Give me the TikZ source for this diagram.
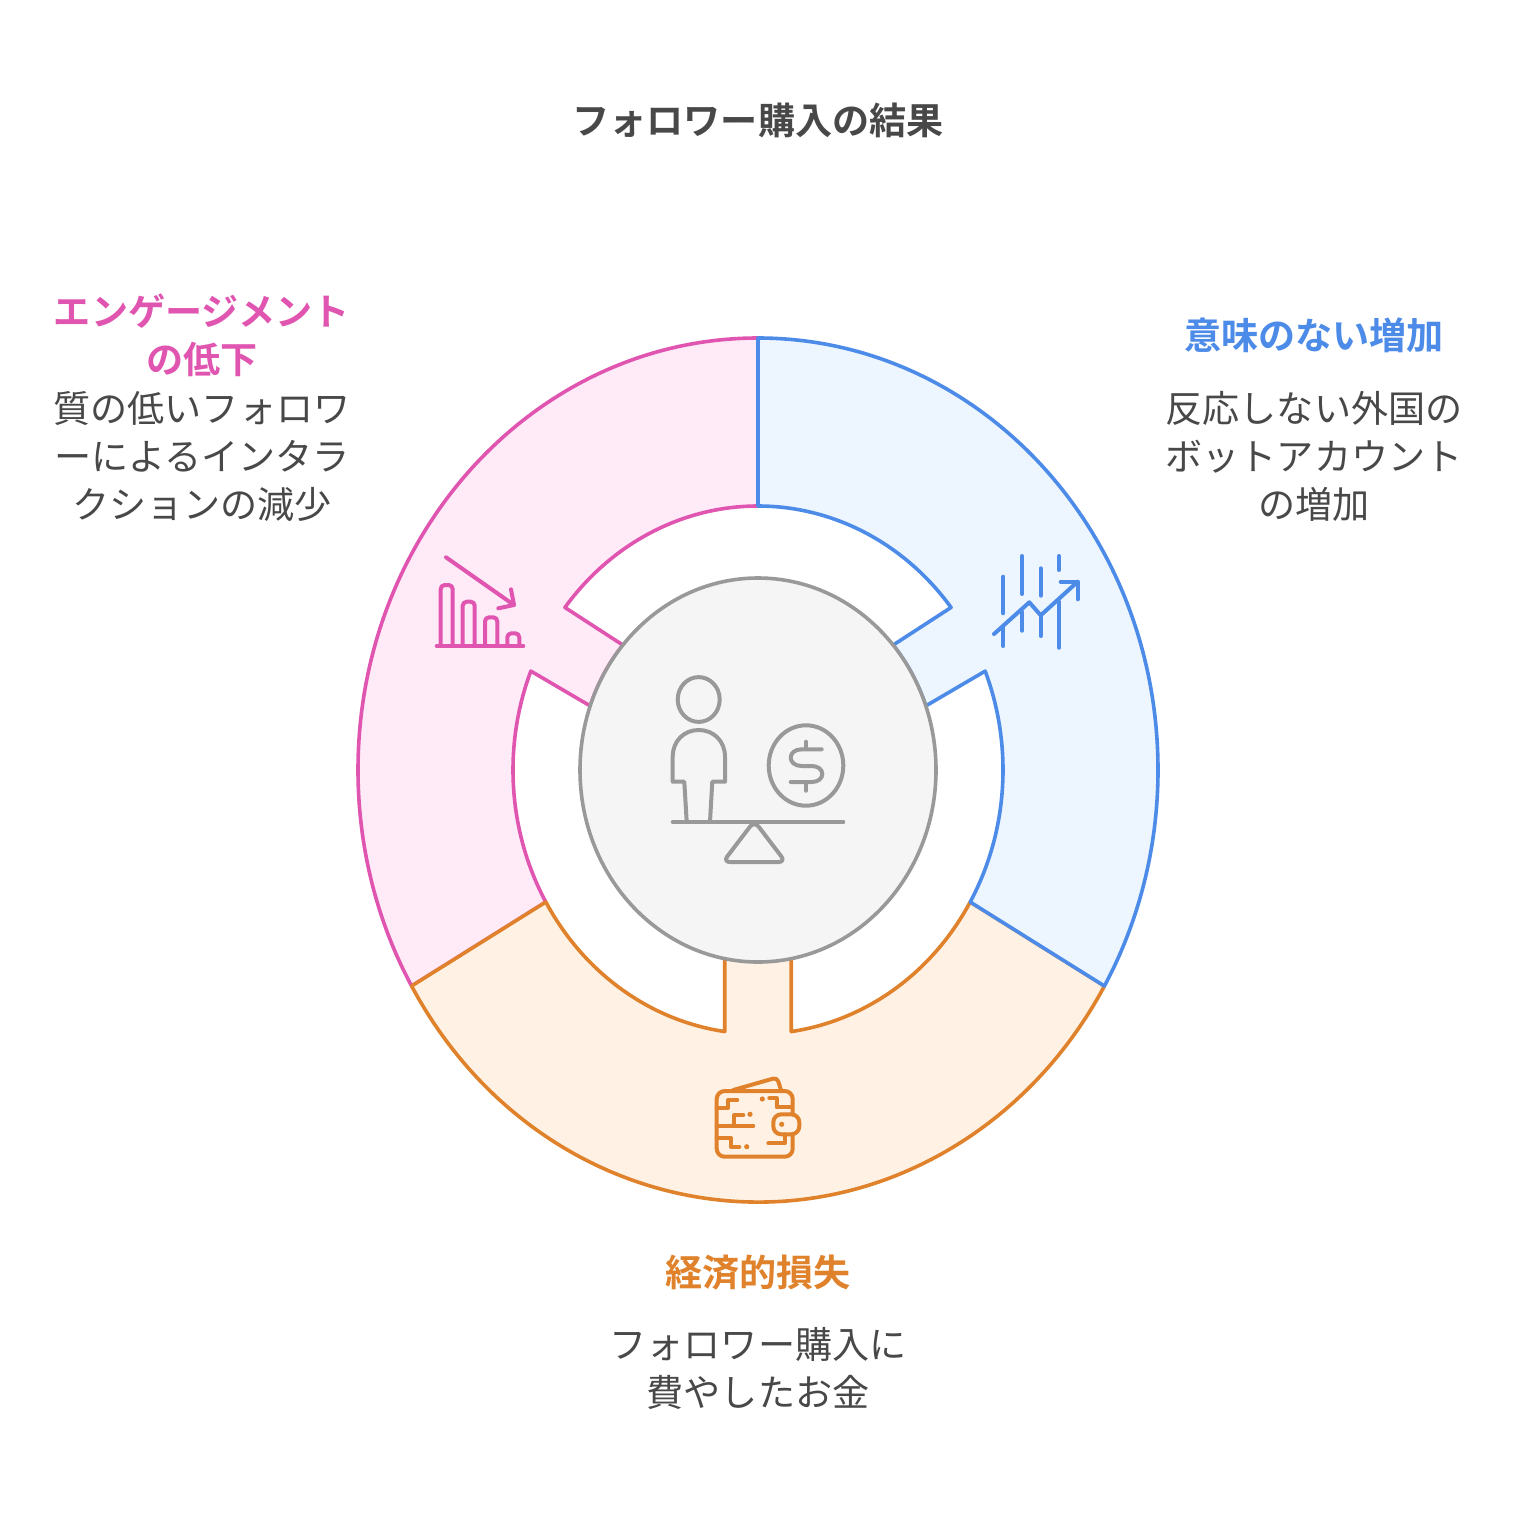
\documentclass[tikz,border=0pt]{standalone}
\usepackage{fontspec}
\newfontfamily\cjk[BoldFont={Noto Sans CJK JP Bold}]{Noto Sans CJK JP}
\definecolor{bluec}{HTML}{4D8BE8}
\definecolor{bluef}{HTML}{EDF5FF}
\definecolor{pinkc}{HTML}{E055B0}
\definecolor{pinkf}{HTML}{FFEBF8}
\definecolor{orangec}{HTML}{E0822B}
\definecolor{orangef}{HTML}{FFF2E5}
\definecolor{grayc}{HTML}{999999}
\definecolor{grayf}{HTML}{F5F5F5}
\definecolor{textc}{HTML}{484848}
\tikzset{
  x=.5pt,y=.5pt,
  seg/.style={line width=1.8pt,line join=round},
  ico/.style={line width=2pt,line cap=round,line join=round},
  body/.style={font=\cjk\fontsize{18.55pt}{24pt}\selectfont,text=textc,align=center,inner sep=0pt},
  head/.style={font=\cjk\bfseries\fontsize{18.55pt}{24pt}\selectfont,align=center,inner sep=0pt},
}
\def\RO{200pt and 216pt}
\def\RI{122.5pt and 132pt}
\def\RC{89pt and 96pt}
\begin{document}
\begin{tikzpicture}
\useasboundingbox (0,0) rectangle (1516,-1516);
\fill[white] (0,0) rectangle (1516,-1516);
\begin{scope}[shift={(758,-770)}]
  % pink
  \draw[seg,draw=pinkc,fill=pinkf]
    (90:\RO) arc[start angle=90,end angle=210,x radius=200pt,y radius=216pt]
    -- (210:\RI) arc[start angle=210,end angle=158,x radius=122.5pt,y radius=132pt]
    -- (160.5:\RC) arc[start angle=160.5,end angle=139.4,x radius=89pt,y radius=96pt]
    -- (142:\RI) arc[start angle=142,end angle=90,x radius=122.5pt,y radius=132pt]
    -- cycle;
  % orange
  \draw[seg,draw=orangec,fill=orangef]
    (210:\RO) arc[start angle=210,end angle=330,x radius=200pt,y radius=216pt]
    -- (330:\RI) arc[start angle=330,end angle=277.8,x radius=122.5pt,y radius=132pt]
    -- (277.8:122.5pt and 95pt) -- (262.2:122.5pt and 95pt) -- (262.2:\RI)
    arc[start angle=262.2,end angle=210,x radius=122.5pt,y radius=132pt]
    -- cycle;
  % blue
  \draw[seg,draw=bluec,fill=bluef]
    (90:\RO) arc[start angle=90,end angle=-30,x radius=200pt,y radius=216pt]
    -- (-30:\RI) arc[start angle=-30,end angle=22,x radius=122.5pt,y radius=132pt]
    -- (19.5:\RC) arc[start angle=19.5,end angle=40.6,x radius=89pt,y radius=96pt]
    -- (38:\RI) arc[start angle=38,end angle=90,x radius=122.5pt,y radius=132pt]
    -- cycle;
  % centre
  \draw[seg,draw=grayc,fill=grayf] (0,0) ellipse[x radius=89pt,y radius=96pt];
\end{scope}

% centre icon
\begin{scope}[ico,draw=grayc]
  \draw (698.7,-699.5) ellipse[x radius=10.5pt,y radius=11.2pt];
  \draw (686.7,-821.7) -- (684.3,-781.7) -- (672.7,-781.7) -- (672.7,-756.7)
    .. controls (672.7,-741) and (684,-730) .. (698.7,-730)
    .. controls (713.5,-730) and (725,-741) .. (725,-756.7)
    -- (725,-781.7) -- (712.3,-781.7) -- (710,-821.7);
  \draw (806,-765.5) ellipse[x radius=18.65pt,y radius=20.1pt];
  \draw (806,-741.7) -- (806,-748.3);
  \draw (806,-782.7) -- (806,-790.7);
  \draw (821.7,-749.3) -- (801.7,-749.3)
    .. controls (795,-749.3) and (790.7,-753) .. (790.7,-757.6)
    .. controls (790.7,-762.3) and (795,-766) .. (801.7,-766)
    -- (811.7,-766)
    .. controls (818,-766) and (822.3,-769.5) .. (822.3,-774)
    .. controls (822.3,-778.5) and (818,-782) .. (811.7,-782)
    -- (790.7,-782);
  \draw (672.7,-822) -- (843.3,-822);
  \draw[rounded corners=3.5pt] (754.3,-821) -- (723,-862) -- (785.6,-862) -- cycle;
\end{scope}

% blue icon
\begin{scope}[ico,draw=bluec]
  \draw (1003.3,-576.7) -- (1003.3,-613.3) (1003.3,-626.7) -- (1003.3,-646);
  \draw (1022,-556) -- (1022,-594) (1022,-611.7) -- (1022,-630.7);
  \draw (1040.7,-568.3) -- (1040.7,-595.7) (1040.7,-616.7) -- (1040.7,-636);
  \draw (1059,-556) -- (1059,-570) (1059,-601.7) -- (1059,-647.7);
  \draw (994,-634) -- (1029.3,-602.3) -- (1040.7,-615.3) -- (1077.7,-581.7);
  \draw (1060.7,-581.7) -- (1077.7,-581.7) -- (1077.7,-599.3);
\end{scope}

% pink icon
\begin{scope}[ico,draw=pinkc]
  \draw (446,-557.3) -- (514,-605);
  \draw (511,-589.3) -- (514,-605) -- (498.3,-608.3);
  \draw (436.7,-646) -- (523.3,-646);
  \draw[rounded corners=2pt] (440.7,-646) -- (440.7,-585) -- (452.7,-585) -- (452.7,-646);
  \draw[rounded corners=2pt] (462.7,-646) -- (462.7,-601.7) -- (474.7,-601.7) -- (474.7,-646);
  \draw[rounded corners=2pt] (485,-646) -- (485,-617.3) -- (497.3,-617.3) -- (497.3,-646);
  \draw[rounded corners=2pt] (507.3,-646) -- (507.3,-633.3) -- (519.3,-633.3) -- (519.3,-646);
\end{scope}

% wallet icon
\begin{scope}[ico,draw=orangec]
  \draw[rounded corners=4pt] (792.7,-1114.3) -- (792.7,-1091) -- (716.7,-1091) -- (716.7,-1156.7) -- (792.7,-1156.7) -- (792.7,-1134.3);
  \draw[rounded corners=4pt] (773.3,-1114.3) rectangle (799.3,-1134.3);
  \fill[orangec] (781.7,-1124.3) circle[radius=1.3pt];
  \draw[rounded corners=2pt] (733.3,-1090) -- (777,-1077.5) -- (781,-1090);
  \draw (716.7,-1107.7) -- (728.3,-1107.7) -- (728.3,-1100) -- (737.3,-1100);
  \draw (716.7,-1126) -- (753.3,-1126);
  \draw (734.3,-1126) -- (734.3,-1115) -- (743.3,-1115);
  \fill[orangec] (750,-1114.3) circle[radius=1.3pt];
  \draw (716.7,-1137.7) -- (730.7,-1137.7) -- (730.7,-1146.7) -- (739.3,-1146.7);
  \fill[orangec] (746.7,-1146.7) circle[radius=1.3pt];
  \fill[orangec] (762.3,-1099) circle[radius=1.3pt];
  \draw (769.3,-1098.3) -- (776.7,-1098.3) -- (776.7,-1107.3) -- (791.7,-1107.3);
  \draw (768.3,-1143.3) -- (785,-1143.3) -- (785,-1134.3);
\end{scope}

% texts
\node[head,text=textc] (title) at (758,-120.5) {フォロワー購入の結果};
\node[head,text=bluec] (bluehead) at (1314,-335.5) {意味のない増加};
\node[body] (bluebody) at (1314,-456) {反応しない外国の\\ボットアカウント\\の増加};
\node[head,text=pinkc] (pinkhead) at (202,-335.5) {エンゲージメント\\の低下};
\node[body] (pinkbody) at (202,-456.5) {質の低いフォロワ\\ーによるインタラ\\クションの減少};
\node[head,text=orangec] (orangehead) at (758,-1272.5) {経済的損失};
\node[body] (orangebody) at (758,-1368) {フォロワー購入に\\費やしたお金};
\end{tikzpicture}
\end{document}
